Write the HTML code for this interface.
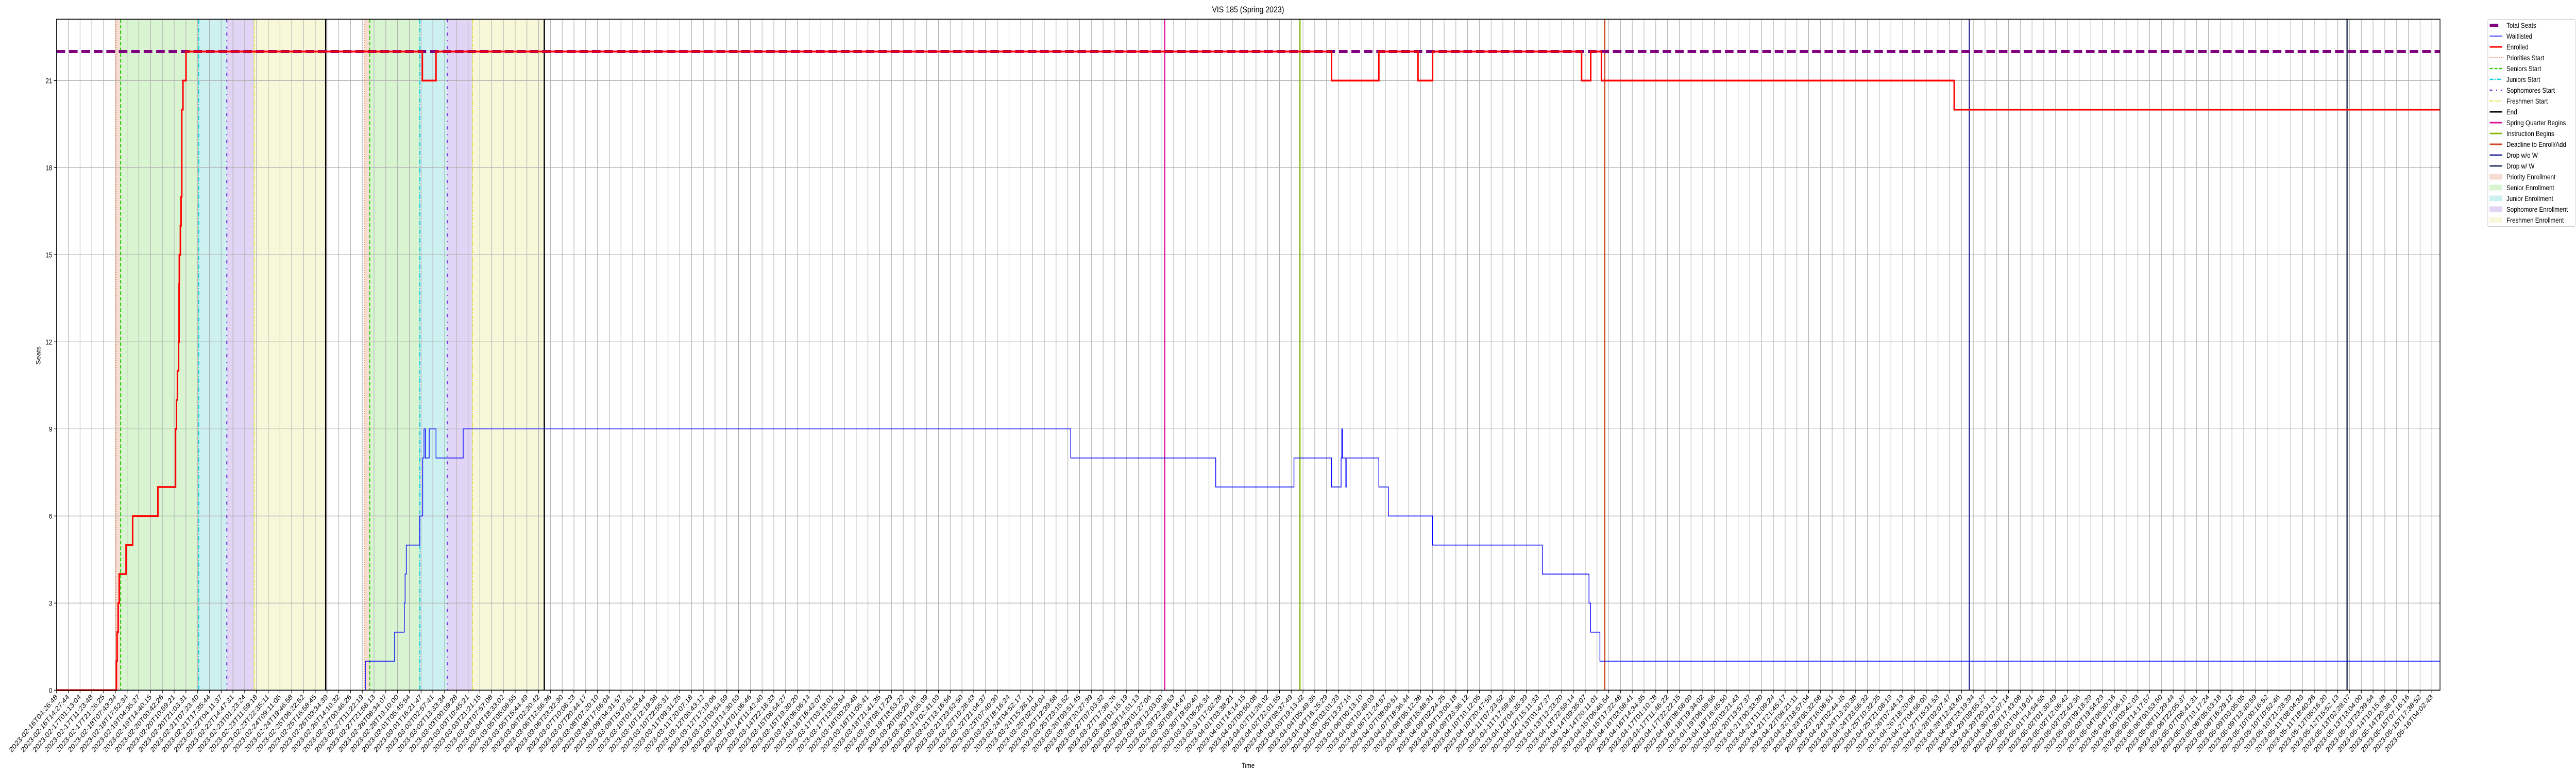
<!DOCTYPE html>
<html><head><meta charset="utf-8"><title>VIS 185 (Spring 2023)</title>
<style>
html,body{margin:0;padding:0;background:#fff;width:100%;height:100%;overflow:hidden;}
svg{display:block;font-family:"Liberation Sans","DejaVu Sans",sans-serif;overflow:hidden;width:100vw;height:100vh;}
</style></head>
<body>
<svg id="chart" viewBox="0 0 6000 1500" preserveAspectRatio="none" xmlns="http://www.w3.org/2000/svg">
  <rect x="0" y="0" width="6000" height="1500" fill="#fff"/>
  <text x="2907" y="24" font-size="17" text-anchor="middle" fill="#000">VIS 185 (Spring 2023)</text>
  <g id="spans"></g>
  <g id="grid"></g>
  <g id="vlines"></g>
  <g id="series"></g>
  <g id="axes"></g>
  <text x="2907" y="1490" font-size="14" text-anchor="middle">Time</text>
  <text transform="translate(94,690) rotate(-90)" font-size="14" text-anchor="middle">Seats</text>
  <g id="legend"></g>
</svg>
<script>
// ---- data (x in tick-index units) ----
const totalSeats = 22;
const enrolledX = [0,5.09,5.15,5.24,5.33,5.91,6.47,8.62,10.12,10.20,10.28,10.38,10.42,10.44,10.53,10.59,10.65,10.75,11.01,31.11,32.27,108.43,112.45,115.78,117.02,129.69,130.47,131.38,161.38];
const enrolledY = [0,1,2,3,4,5,6,7,9,10,11,12,14,15,16,17,20,21,22,21,22,21,22,21,22,21,22,21,20];
const waitX = [0,26.26,28.75,29.57,29.64,29.74,30.89,31.14,31.25,31.37,31.69,32.27,34.58,86.25,98.58,105.23,108.43,109.24,109.30,109.36,109.64,109.72,112.45,113.26,117.02,126.35,130.32,130.46,131.25];
const waitY = [0,1,2,3,4,5,6,8,9,8,9,8,9,8,7,8,7,8,9,8,7,8,7,6,5,4,3,2,1];
const spanStarts = [5.05,5.45,12.09,14.48,16.80,26.21,26.63,30.89,33.23,35.37];
const spanEnds   = [5.45,12.09,14.48,16.80,22.89,26.63,30.89,33.23,35.37,41.48];
const spanKinds  = ['priority','senior','junior','sophomore','freshmen','priority','senior','junior','sophomore','freshmen'];
const eventX     = [5.05,5.45,12.09,14.48,16.80,22.89,26.21,26.63,30.89,33.23,35.37,41.48,94.24,105.74,131.66,162.67,194.79];
const eventKinds = ['priorities','seniors','juniors','sophomores','freshmen','end','priorities','seniors','juniors','sophomores','freshmen','end','spring','instruction','deadline','dropnow','dropw'];
const yTicks = [0,3,6,9,12,15,18,21];
const firstLabels = ["2023-02-16T04:26:48","2023-02-16T14:27:44","2023-02-17T01:13:04","2023-02-17T11:23:48","2023-02-17T21:26:25","2023-02-18T07:43:34","2023-02-18T17:52:34","2023-02-19T04:35:27","2023-02-19T14:40:15","2023-02-20T00:42:26","2023-02-20T10:59:21","2023-02-20T21:03:31","2023-02-21T07:23:40","2023-02-21T17:35:44"];
const lastLabels = ["2023-05-14T10:15:48","2023-05-14T20:38:10","2023-05-15T07:16:16","2023-05-15T17:38:52","2023-05-16T04:02:43"];
const tickCount = 203;

// ---- geometry ----
const L=131.7, T=37.3, B=1339.3, R=5683.3, step=27.389, unit=56.33;
const xs = i => L + i*step;
const ys = v => B - v*unit;
const NS="http://www.w3.org/2000/svg";
function mk(tag, attrs, parent){const e=document.createElementNS(NS,tag);for(const k in attrs)e.setAttribute(k,attrs[k]);parent.appendChild(e);return e;}
const xMax=(R-L)/step;

// tick labels
const tickLabels=[];
{
  const t0=Date.parse(firstLabels[firstLabels.length-1]+"Z"), i0=firstLabels.length-1;
  const i1=tickCount-lastLabels.length, t1=Date.parse(lastLabels[0]+"Z");
  for(let i=0;i<tickCount;i++){
    if(i<firstLabels.length) tickLabels.push(firstLabels[i]);
    else if(i>=i1) tickLabels.push(lastLabels[i-i1]);
    else tickLabels.push(new Date(t0+(t1-t0)*(i-i0)/(i1-i0)).toISOString().slice(0,19));
  }
}

const spanColor={priority:'#f6ddd2',senior:'#d9f4d1',junior:'#cdf0f1',sophomore:'#e1d4f5',freshmen:'#f7f8d9'};
const evStyle={
  priorities:{c:'#f07a45',w:2,d:'2,2.5'},
  seniors:{c:'#33cc11',w:2.5,d:'7,4'},
  juniors:{c:'#11ccdd',w:2.5,d:'9,3,2,3'},
  sophomores:{c:'#7a2ee0',w:2.5,d:'6,9,2,9'},
  freshmen:{c:'#dddd22',w:2,d:'6,2,2,2,2,2'},
  end:{c:'#000',w:3,d:''},
  spring:{c:'#dd1199',w:3,d:''},
  instruction:{c:'#88bb11',w:3,d:''},
  deadline:{c:'#cc4422',w:3,d:''},
  dropnow:{c:'#333399',w:3,d:''},
  dropw:{c:'#2f3f5f',w:3,d:''}
};

// spans
const gS=document.getElementById('spans');
spanStarts.forEach((s,i)=>{
  const r=mk('rect',{x:xs(s),y:T,width:xs(spanEnds[i])-xs(s),height:B-T,fill:spanColor[spanKinds[i]]},gS);
  
  
});

// grid
const gG=document.getElementById('grid');
for(let i=0;i<tickCount;i++){
  const l=mk('line',{x1:xs(i),x2:xs(i),y1:T,y2:B,stroke:'#b0b0b0','stroke-width':1.3},gG);
  
  
}
yTicks.forEach(v=>{
  const l=mk('line',{x1:L,x2:R,y1:ys(v),y2:ys(v),stroke:'#b0b0b0','stroke-width':1.3},gG);
  
  
});

// event lines
const gV=document.getElementById('vlines');
eventX.forEach((e,i)=>{
  const s=evStyle[eventKinds[i]];
  const a={x1:xs(e),x2:xs(e),y1:T,y2:B,stroke:s.c,'stroke-width':s.w};
  if(s.d)a['stroke-dasharray']=s.d;
  const l=mk('line',a,gV);
  
  
});

// series
const gR=document.getElementById('series');
function stepPath(X,Y){
  let d='M'+xs(X[0])+','+ys(Y[0]);
  for(let i=1;i<X.length;i++){d+=' L'+xs(X[i])+','+ys(Y[i-1])+' L'+xs(X[i])+','+ys(Y[i]);}
  d+=' L'+xs(xMax)+','+ys(Y[Y.length-1]);
  return d;
}
const ts=mk('line',{x1:L,x2:R,y1:ys(totalSeats),y2:ys(totalSeats),stroke:'#800080','stroke-width':6,'stroke-dasharray':'20,9'},gR);


const wl=mk('path',{d:stepPath(waitX,waitY),fill:'none',stroke:'#0000ff','stroke-width':1.6},gR);


const en=mk('path',{d:stepPath(enrolledX,enrolledY),fill:'none',stroke:'#ff0000','stroke-width':3.5},gR);



// axes
const gA=document.getElementById('axes');
const fr=mk('rect',{x:L,y:T,width:R-L,height:B-T,fill:'none',stroke:'#000','stroke-width':1.6},gA);


yTicks.forEach(v=>{
  mk('line',{x1:L-6,x2:L,y1:ys(v),y2:ys(v),stroke:'#000','stroke-width':1.3},gA);
  const t=mk('text',{x:L-10,y:ys(v)+5,'font-size':14,'text-anchor':'end'},gA);
  t.textContent=v;
  
  
});
tickLabels.forEach((lab,i)=>{
  const x=xs(i);
  mk('line',{x1:x,x2:x,y1:B,y2:B+6,stroke:'#000','stroke-width':1.3},gA);
  const t=mk('text',{transform:'translate('+(x+3)+','+(B+14)+') rotate(-45)','font-size':14,'text-anchor':'end',textLength:152,lengthAdjust:'spacingAndGlyphs'},gA);
  t.textContent=lab;
  
  
});

// legend
const gL=document.getElementById('legend');
const lb=mk('rect',{x:5794.5,y:37.5,width:204,height:402,rx:3,fill:'#fff',stroke:'#d0d0d0','stroke-width':1.2},gL);


const legendNames=['Total Seats','Waitlisted','Enrolled','Priorities Start','Seniors Start','Juniors Start','Sophomores Start','Freshmen Start','End','Spring Quarter Begins','Instruction Begins','Deadline to Enroll/Add','Drop w/o W','Drop w/ W','Priority Enrollment','Senior Enrollment','Junior Enrollment','Sophomore Enrollment','Freshmen Enrollment'];
const legendKeys=['total','wait','enrolled','priorities','seniors','juniors','sophomores','freshmen','end','spring','instruction','deadline','dropnow','dropw','priority','senior','junior','sophomore','freshmen'];
legendNames.forEach((n,i)=>{
  const y=49+i*21;
  const g=mk('g',{},gL);
  
  
  const k=legendKeys[i];
  if(i===0) mk('line',{x1:5799,x2:5819,y1:y,y2:y,stroke:'#800080','stroke-width':6},g);
  else if(i===1) mk('line',{x1:5799,x2:5828,y1:y,y2:y,stroke:'#0000ff','stroke-width':1.6},g);
  else if(i===2) mk('line',{x1:5799,x2:5828,y1:y,y2:y,stroke:'#ff0000','stroke-width':3},g);
  else if(i<14){const s=evStyle[k];const a={x1:5799,x2:5828,y1:y,y2:y,stroke:s.c,'stroke-width':s.w};if(s.d)a['stroke-dasharray']=s.d;mk('line',a,g);}
  else mk('rect',{x:5799,y:y-5,width:29,height:10,fill:spanColor[k],stroke:spanColor[k]},g);
  const t=mk('text',{x:5838,y:y+5,'font-size':14},g);
  t.textContent=n;
});
</script>
</body></html>
